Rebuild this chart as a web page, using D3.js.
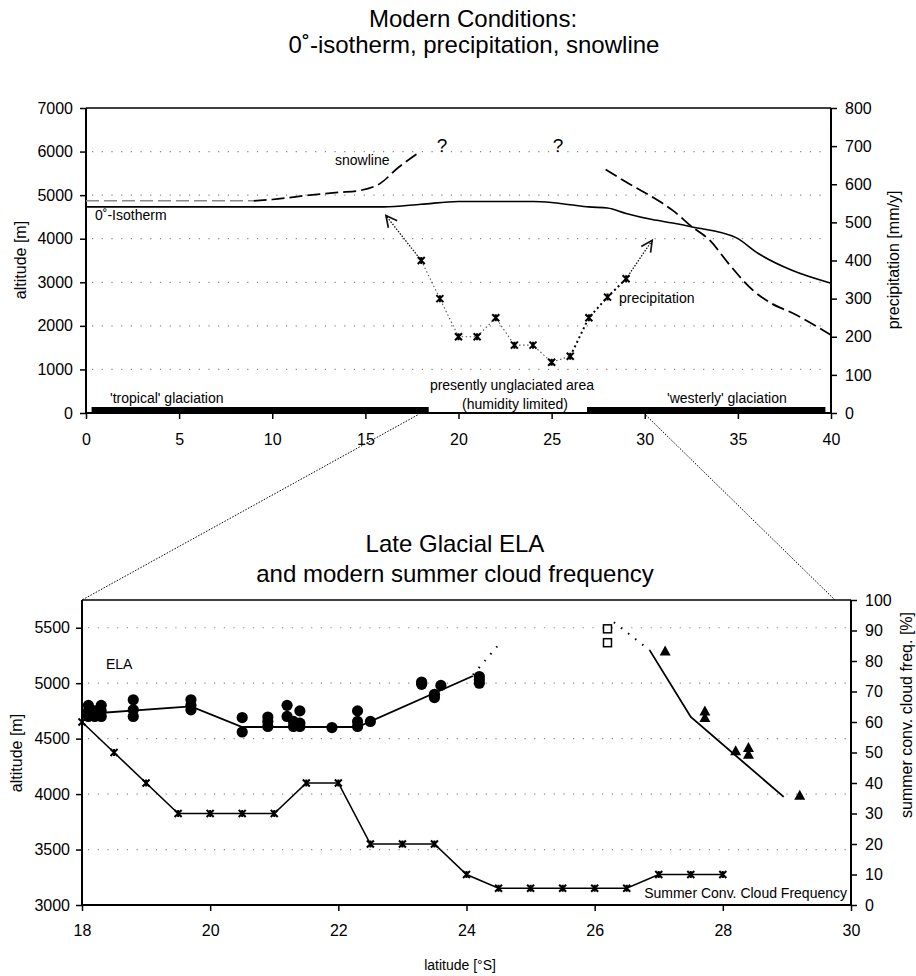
<!DOCTYPE html>
<html>
<head>
<meta charset="utf-8">
<script src="https://cdn.jsdelivr.net/npm/d3@7"></script>
<style>
  html, body { margin: 0; padding: 0; background: #fff; }
  svg { display: block; font-family: "Liberation Sans", Arial, Helvetica, sans-serif; }
</style>
</head>
<body>
<svg id="chart" width="916" height="976"></svg>
<script>
// ---------- TOP CHART DATA ----------
const topXTicks = [0, 5, 10, 15, 20, 25, 30, 35, 40];
const topAltTicks = [0, 1000, 2000, 3000, 4000, 5000, 6000, 7000];
const topPrecTicks = [0, 100, 200, 300, 400, 500, 600, 700, 800];

const isoLat = [0, 16, 18, 20, 24, 25, 26, 27, 28, 29, 30.4, 31.5, 32.55, 34.9, 36.1, 37.9, 40];
const isoAlt = [4730, 4730, 4790, 4855, 4855, 4830, 4780, 4730, 4705, 4580, 4440, 4360, 4270, 4025, 3660, 3275, 2980];

const snowGrayLat = [0, 9];
const snowGrayAlt = [4870, 4870];
const snowLeftLat = [9, 10, 12, 13.6, 14.6, 15.8, 16.8, 17.8];
const snowLeftAlt = [4870, 4900, 5000, 5065, 5100, 5270, 5646, 5953];
const snowRightLat = [27.9, 29.0, 30.4, 31.5, 32.55, 33.5, 34.5, 35.8, 36.8, 37.9, 40];
const snowRightAlt = [5590, 5300, 4960, 4650, 4270, 3960, 3430, 2820, 2515, 2300, 1790];

const precipLat = [18, 19, 20, 21, 22, 23, 24, 25, 26, 27, 28, 29];
const precipVal = [400, 300, 200, 200, 250, 178, 178, 133, 149, 250, 304, 352];

const arrowLeftLat = [18, 16.1];
const arrowLeftVal = [400, 518];
const arrowRightLat = [29, 30.4];
const arrowRightVal = [352, 453];

const glacStart = [0.3, 26.9];
const glacEnd = [18.4, 39.7];

// ---------- BOTTOM CHART DATA ----------
const botXTicks = [18, 20, 22, 24, 26, 28, 30];
const botAltTicks = [3000, 3500, 4000, 4500, 5000, 5500];
const botCloudTicks = [0, 10, 20, 30, 40, 50, 60, 70, 80, 90, 100];

const elaLat = [18.1, 18.1, 18.1, 18.2, 18.2, 18.3, 18.3, 18.3, 18.8, 18.8, 18.8,
                19.7, 19.7, 19.7, 20.5, 20.5, 20.9, 20.9, 20.9, 21.2, 21.2, 21.3, 21.3,
                21.4, 21.4, 21.4, 21.9, 22.3, 22.3, 22.3, 22.5, 23.3, 23.3, 23.5, 23.5,
                23.6, 24.2, 24.2, 24.2];
const elaAlt = [4800, 4750, 4700, 4750, 4700, 4800, 4750, 4700, 4850, 4760, 4700,
                4850, 4800, 4760, 4690, 4560, 4695, 4655, 4610, 4800, 4700, 4655, 4610,
                4750, 4640, 4610, 4600, 4750, 4655, 4610, 4655, 5010, 4990, 4900, 4870,
                4980, 5060, 5030, 5000];

const elaLineLat = [18, 19.7, 20.5, 22.3, 24.1];
const elaLineAlt = [4720, 4790, 4605, 4605, 5065];
const elaDotLat = [24.1, 24.55];
const elaDotAlt = [5075, 5380];

const squareLat = [26.2, 26.2];
const squareAlt = [5490, 5365];
const squareDotLat = [26.3, 26.86];
const squareDotAlt = [5550, 5296];

const westLineLat = [26.86, 27.5, 28.95];
const westLineAlt = [5296, 4695, 3975];
const triLat = [27.1, 27.72, 27.72, 28.2, 28.4, 28.4, 29.2];
const triAlt = [5290, 4750, 4690, 4390, 4420, 4360, 3990];

const cloudLat = [18, 18.5, 19, 19.5, 20, 20.5, 21, 21.5, 22, 22.5, 23, 23.5, 24, 24.5, 25, 25.5, 26, 26.5, 27, 27.5, 28];
const cloudVal = [60, 50, 40, 30, 30, 30, 30, 40, 40, 20, 20, 20, 10, 5.5, 5.5, 5.5, 5.5, 5.5, 10, 10, 10];

// ---------- DRAWING ----------
const svg = d3.select("#chart");
const FONT = 16;
const TITLE = 24;

const xT = d3.scaleLinear().domain([0, 40]).range([86, 831]);
const yT = d3.scaleLinear().domain([0, 7000]).range([413, 108]);
const yP = d3.scaleLinear().domain([0, 800]).range([413, 108]);

const xB = d3.scaleLinear().domain([18, 30]).range([82, 851]);
const yB = d3.scaleLinear().domain([3000, 5750]).range([905, 600]);
const yC = d3.scaleLinear().domain([0, 100]).range([905, 600]);

const zip = (a, b) => a.map((v, i) => [v, b[i]]);
const fmt = d3.format("d");

// arrow marker
const defs = svg.append("defs");
defs.append("marker").attr("id", "arrow").attr("viewBox", "0 0 10 10")
  .attr("refX", 9).attr("refY", 5).attr("markerWidth", 14).attr("markerHeight", 14)
  .attr("markerUnits", "userSpaceOnUse").attr("orient", "auto")
  .append("path").attr("d", "M1,1 L9,5 L1,9").attr("fill", "none")
  .attr("stroke", "#111").attr("stroke-width", 1.2);

// titles
svg.append("text").attr("x", 473).attr("y", 27).attr("text-anchor", "middle")
  .attr("font-size", TITLE).text("Modern Conditions:");
svg.append("text").attr("x", 474).attr("y", 53).attr("text-anchor", "middle")
  .attr("font-size", TITLE).text("0˚-isotherm, precipitation, snowline");
svg.append("text").attr("x", 455).attr("y", 552).attr("text-anchor", "middle")
  .attr("font-size", TITLE).text("Late Glacial ELA");
svg.append("text").attr("x", 455).attr("y", 582).attr("text-anchor", "middle")
  .attr("font-size", TITLE).text("and modern summer cloud frequency");

function grid(g, vals, x0, x1, y) {
  g.selectAll("line.grid").data(vals).enter().append("line")
    .attr("x1", x0 + 6).attr("x2", x1 - 4).attr("y1", d => y(d)).attr("y2", d => y(d))
    .attr("stroke", "#888").attr("stroke-width", 1.2).attr("stroke-dasharray", "1.2,8.5");
}

function styleAxis(g) {
  g.select(".domain").remove();
  g.selectAll(".tick line").attr("stroke", "#000").attr("stroke-width", 1.5);
  g.selectAll(".tick text").attr("font-size", FONT).attr("fill", "#000")
    .attr("font-family", "Liberation Sans, Arial, sans-serif");
}

// ===== TOP CHART =====
const gT = svg.append("g");
grid(gT, topAltTicks.filter(d => d > 0 && d < 7000), 86, 831, yT);

gT.append("line").attr("x1", xT(0)).attr("x2", xT(40)).attr("y1", yT(7000)).attr("y2", yT(7000))
  .attr("stroke", "#000").attr("stroke-width", 1.5);

gT.append("g").attr("transform", "translate(86,0)")
  .call(d3.axisLeft(yT).tickValues(topAltTicks).tickFormat(fmt).tickSize(6).tickPadding(7).tickSizeOuter(0))
  .call(styleAxis);
gT.append("g").attr("transform", "translate(831,0)")
  .call(d3.axisRight(yP).tickValues(topPrecTicks).tickFormat(fmt).tickSize(6).tickPadding(8).tickSizeOuter(0))
  .call(styleAxis);
gT.append("g").attr("transform", "translate(0,413)")
  .call(d3.axisBottom(xT).tickValues(topXTicks).tickFormat(fmt).tickSize(6).tickPadding(15).tickSizeOuter(0))
  .call(styleAxis);

[[86, 108, 86, 413], [831, 108, 831, 413], [86, 413, 831, 413]].forEach(c => {
  gT.append("line").attr("x1", c[0]).attr("y1", c[1]).attr("x2", c[2]).attr("y2", c[3])
    .attr("stroke", "#000").attr("stroke-width", 2);
});

// glaciation bars
gT.selectAll("rect.glac").data(d3.range(glacStart.length)).enter().append("rect")
  .attr("x", i => xT(glacStart[i])).attr("width", i => xT(glacEnd[i]) - xT(glacStart[i]))
  .attr("y", yT(0) - 6).attr("height", 6).attr("fill", "#000");

const lineT = d3.line().x(d => xT(d[0])).y(d => yT(d[1]));
const lineTs = d3.line().x(d => xT(d[0])).y(d => yT(d[1])).curve(d3.curveMonotoneX);
const lineP = d3.line().x(d => xT(d[0])).y(d => yP(d[1]));

// isotherm
gT.append("path").attr("d", lineTs(zip(isoLat, isoAlt))).attr("fill", "none")
  .attr("stroke", "#000").attr("stroke-width", 1.6);

// snowline
gT.append("path").attr("d", lineT(zip(snowGrayLat, snowGrayAlt))).attr("fill", "none")
  .attr("stroke", "#888").attr("stroke-width", 1.5).attr("stroke-dasharray", "13,5");
gT.append("path").attr("d", lineTs(zip(snowLeftLat, snowLeftAlt))).attr("fill", "none")
  .attr("stroke", "#000").attr("stroke-width", 1.7).attr("stroke-dasharray", "13,5");
gT.append("path").attr("d", lineTs(zip(snowRightLat, snowRightAlt))).attr("fill", "none")
  .attr("stroke", "#000").attr("stroke-width", 1.8).attr("stroke-dasharray", "13,5");

// precipitation: thin dotted in the dry part, heavier dotted towards the south
const precPts = zip(precipLat, precipVal);
const splitIdx = precipLat.indexOf(26);
gT.append("path").attr("d", lineP(precPts.slice(0, splitIdx + 1))).attr("fill", "none")
  .attr("stroke", "#555").attr("stroke-width", 1.1).attr("stroke-dasharray", "1.5,2.5");
gT.append("path").attr("d", lineP(precPts.slice(splitIdx))).attr("fill", "none")
  .attr("stroke", "#000").attr("stroke-width", 2).attr("stroke-dasharray", "2,3");
[[arrowLeftLat, arrowLeftVal], [arrowRightLat, arrowRightVal]].forEach(a => {
  gT.append("path").attr("d", lineP(zip(a[0], a[1]))).attr("fill", "none")
    .attr("stroke", "#111").attr("stroke-width", 1.3).attr("stroke-dasharray", "1.5,1.5")
    .attr("marker-end", "url(#arrow)");
});

function starMarker(g, pts, xs, ys, s) {
  const m = g.selectAll(null).data(pts).enter().append("g")
    .attr("transform", d => `translate(${xs(d[0])},${ys(d[1])})`);
  m.append("path").attr("d", `M${-s},${-s}L${s},${s}M${-s},${s}L${s},${-s}M0,${-s}L0,${s}`)
    .attr("stroke", "#000").attr("stroke-width", 2).attr("fill", "none");
}
starMarker(gT, precPts, xT, yP, 3.5);

// annotations top
const ann = (g, x, y, t, size, anchor) => g.append("text").attr("x", x).attr("y", y)
  .attr("font-size", size).attr("text-anchor", anchor || "start").text(t);
ann(gT, 335, 165, "snowline", 14);
ann(gT, 95, 220, "0˚-Isotherm", 14);
ann(gT, 442, 152, "?", 19, "middle");
ann(gT, 558, 152, "?", 19, "middle");
ann(gT, 619, 303, "precipitation", 14);
ann(gT, 512, 390, "presently unglaciated area", 14, "middle");
ann(gT, 515, 409, "(humidity limited)", 14, "middle");
ann(gT, 110, 403, "'tropical' glaciation", 14);
ann(gT, 667, 403, "'westerly' glaciation", 14);

gT.append("text").attr("transform", "translate(26,260) rotate(-90)").attr("text-anchor", "middle")
  .attr("font-size", FONT).text("altitude [m]");
gT.append("text").attr("transform", "translate(899,260) rotate(-90)").attr("text-anchor", "middle")
  .attr("font-size", FONT).text("precipitation [mm/y]");

// connector lines
svg.append("line").attr("x1", xT(17.8)).attr("y1", 415).attr("x2", xB(18)).attr("y2", 600)
  .attr("stroke", "#000").attr("stroke-width", 1).attr("stroke-dasharray", "1.5,1.5");
svg.append("line").attr("x1", xT(30.05)).attr("y1", 415).attr("x2", xB(29.75)).attr("y2", 600)
  .attr("stroke", "#000").attr("stroke-width", 1).attr("stroke-dasharray", "1.5,1.5");

// ===== BOTTOM CHART =====
const gB = svg.append("g");
grid(gB, botAltTicks.filter(d => d > 3000), 82, 851, yB);

gB.append("line").attr("x1", 82).attr("x2", 851).attr("y1", 600).attr("y2", 600)
  .attr("stroke", "#000").attr("stroke-width", 1.5);

gB.append("g").attr("transform", "translate(82,0)")
  .call(d3.axisLeft(yB).tickValues(botAltTicks).tickFormat(fmt).tickSize(6).tickPadding(6).tickSizeOuter(0))
  .call(styleAxis);
gB.append("g").attr("transform", "translate(851,0)")
  .call(d3.axisRight(yC).tickValues(botCloudTicks).tickFormat(fmt).tickSize(6).tickPadding(8).tickSizeOuter(0))
  .call(styleAxis);
gB.append("g").attr("transform", "translate(0,905)")
  .call(d3.axisBottom(xB).tickValues(botXTicks).tickFormat(fmt).tickSize(6).tickPadding(14).tickSizeOuter(0))
  .call(styleAxis);

[[82, 600, 82, 905], [851, 600, 851, 905], [82, 905, 851, 905]].forEach(c => {
  gB.append("line").attr("x1", c[0]).attr("y1", c[1]).attr("x2", c[2]).attr("y2", c[3])
    .attr("stroke", "#000").attr("stroke-width", 2);
});

const lineB = d3.line().x(d => xB(d[0])).y(d => yB(d[1]));
const lineC = d3.line().x(d => xB(d[0])).y(d => yC(d[1]));

// cloud frequency
gB.append("path").attr("d", lineC(zip(cloudLat, cloudVal))).attr("fill", "none")
  .attr("stroke", "#000").attr("stroke-width", 1.6);
starMarker(gB, zip(cloudLat, cloudVal), xB, yC, 3.5);

// ELA
gB.append("path").attr("d", lineB(zip(elaLineLat, elaLineAlt))).attr("fill", "none")
  .attr("stroke", "#000").attr("stroke-width", 1.8);
gB.append("path").attr("d", lineB(zip(elaDotLat, elaDotAlt))).attr("fill", "none")
  .attr("stroke", "#000").attr("stroke-width", 2).attr("stroke-dasharray", "1.5,7.5");
gB.selectAll("circle.ela").data(zip(elaLat, elaAlt)).enter().append("circle")
  .attr("cx", d => xB(d[0])).attr("cy", d => yB(d[1])).attr("r", 5.6).attr("fill", "#000");

gB.append("path").attr("d", lineB(zip(squareDotLat, squareDotAlt))).attr("fill", "none")
  .attr("stroke", "#000").attr("stroke-width", 2).attr("stroke-dasharray", "1.5,7.5");
gB.selectAll("rect.sq").data(zip(squareLat, squareAlt)).enter().append("rect")
  .attr("x", d => xB(d[0]) - 4).attr("y", d => yB(d[1]) - 4).attr("width", 8).attr("height", 8)
  .attr("fill", "#fff").attr("stroke", "#000").attr("stroke-width", 1.5);

gB.append("path").attr("d", lineB(zip(westLineLat, westLineAlt))).attr("fill", "none")
  .attr("stroke", "#000").attr("stroke-width", 1.8);
gB.selectAll("path.tri").data(zip(triLat, triAlt)).enter().append("path")
  .attr("transform", d => `translate(${xB(d[0])},${yB(d[1])})`)
  .attr("d", "M0,-5.5L5.5,4.5L-5.5,4.5Z").attr("fill", "#000");

ann(gB, 106, 669, "ELA", 14);
ann(gB, 847, 898, "Summer Conv. Cloud Frequency", 14, "end");
gB.append("text").attr("x", 460).attr("y", 970).attr("text-anchor", "middle")
  .attr("font-size", 14).text("latitude [°S]");
gB.append("text").attr("transform", "translate(22,753) rotate(-90)").attr("text-anchor", "middle")
  .attr("font-size", FONT).text("altitude [m]");
gB.append("text").attr("transform", "translate(912,715) rotate(-90)").attr("text-anchor", "middle")
  .attr("font-size", FONT).text("summer conv. cloud freq. [%]");
</script>
</body>
</html>
